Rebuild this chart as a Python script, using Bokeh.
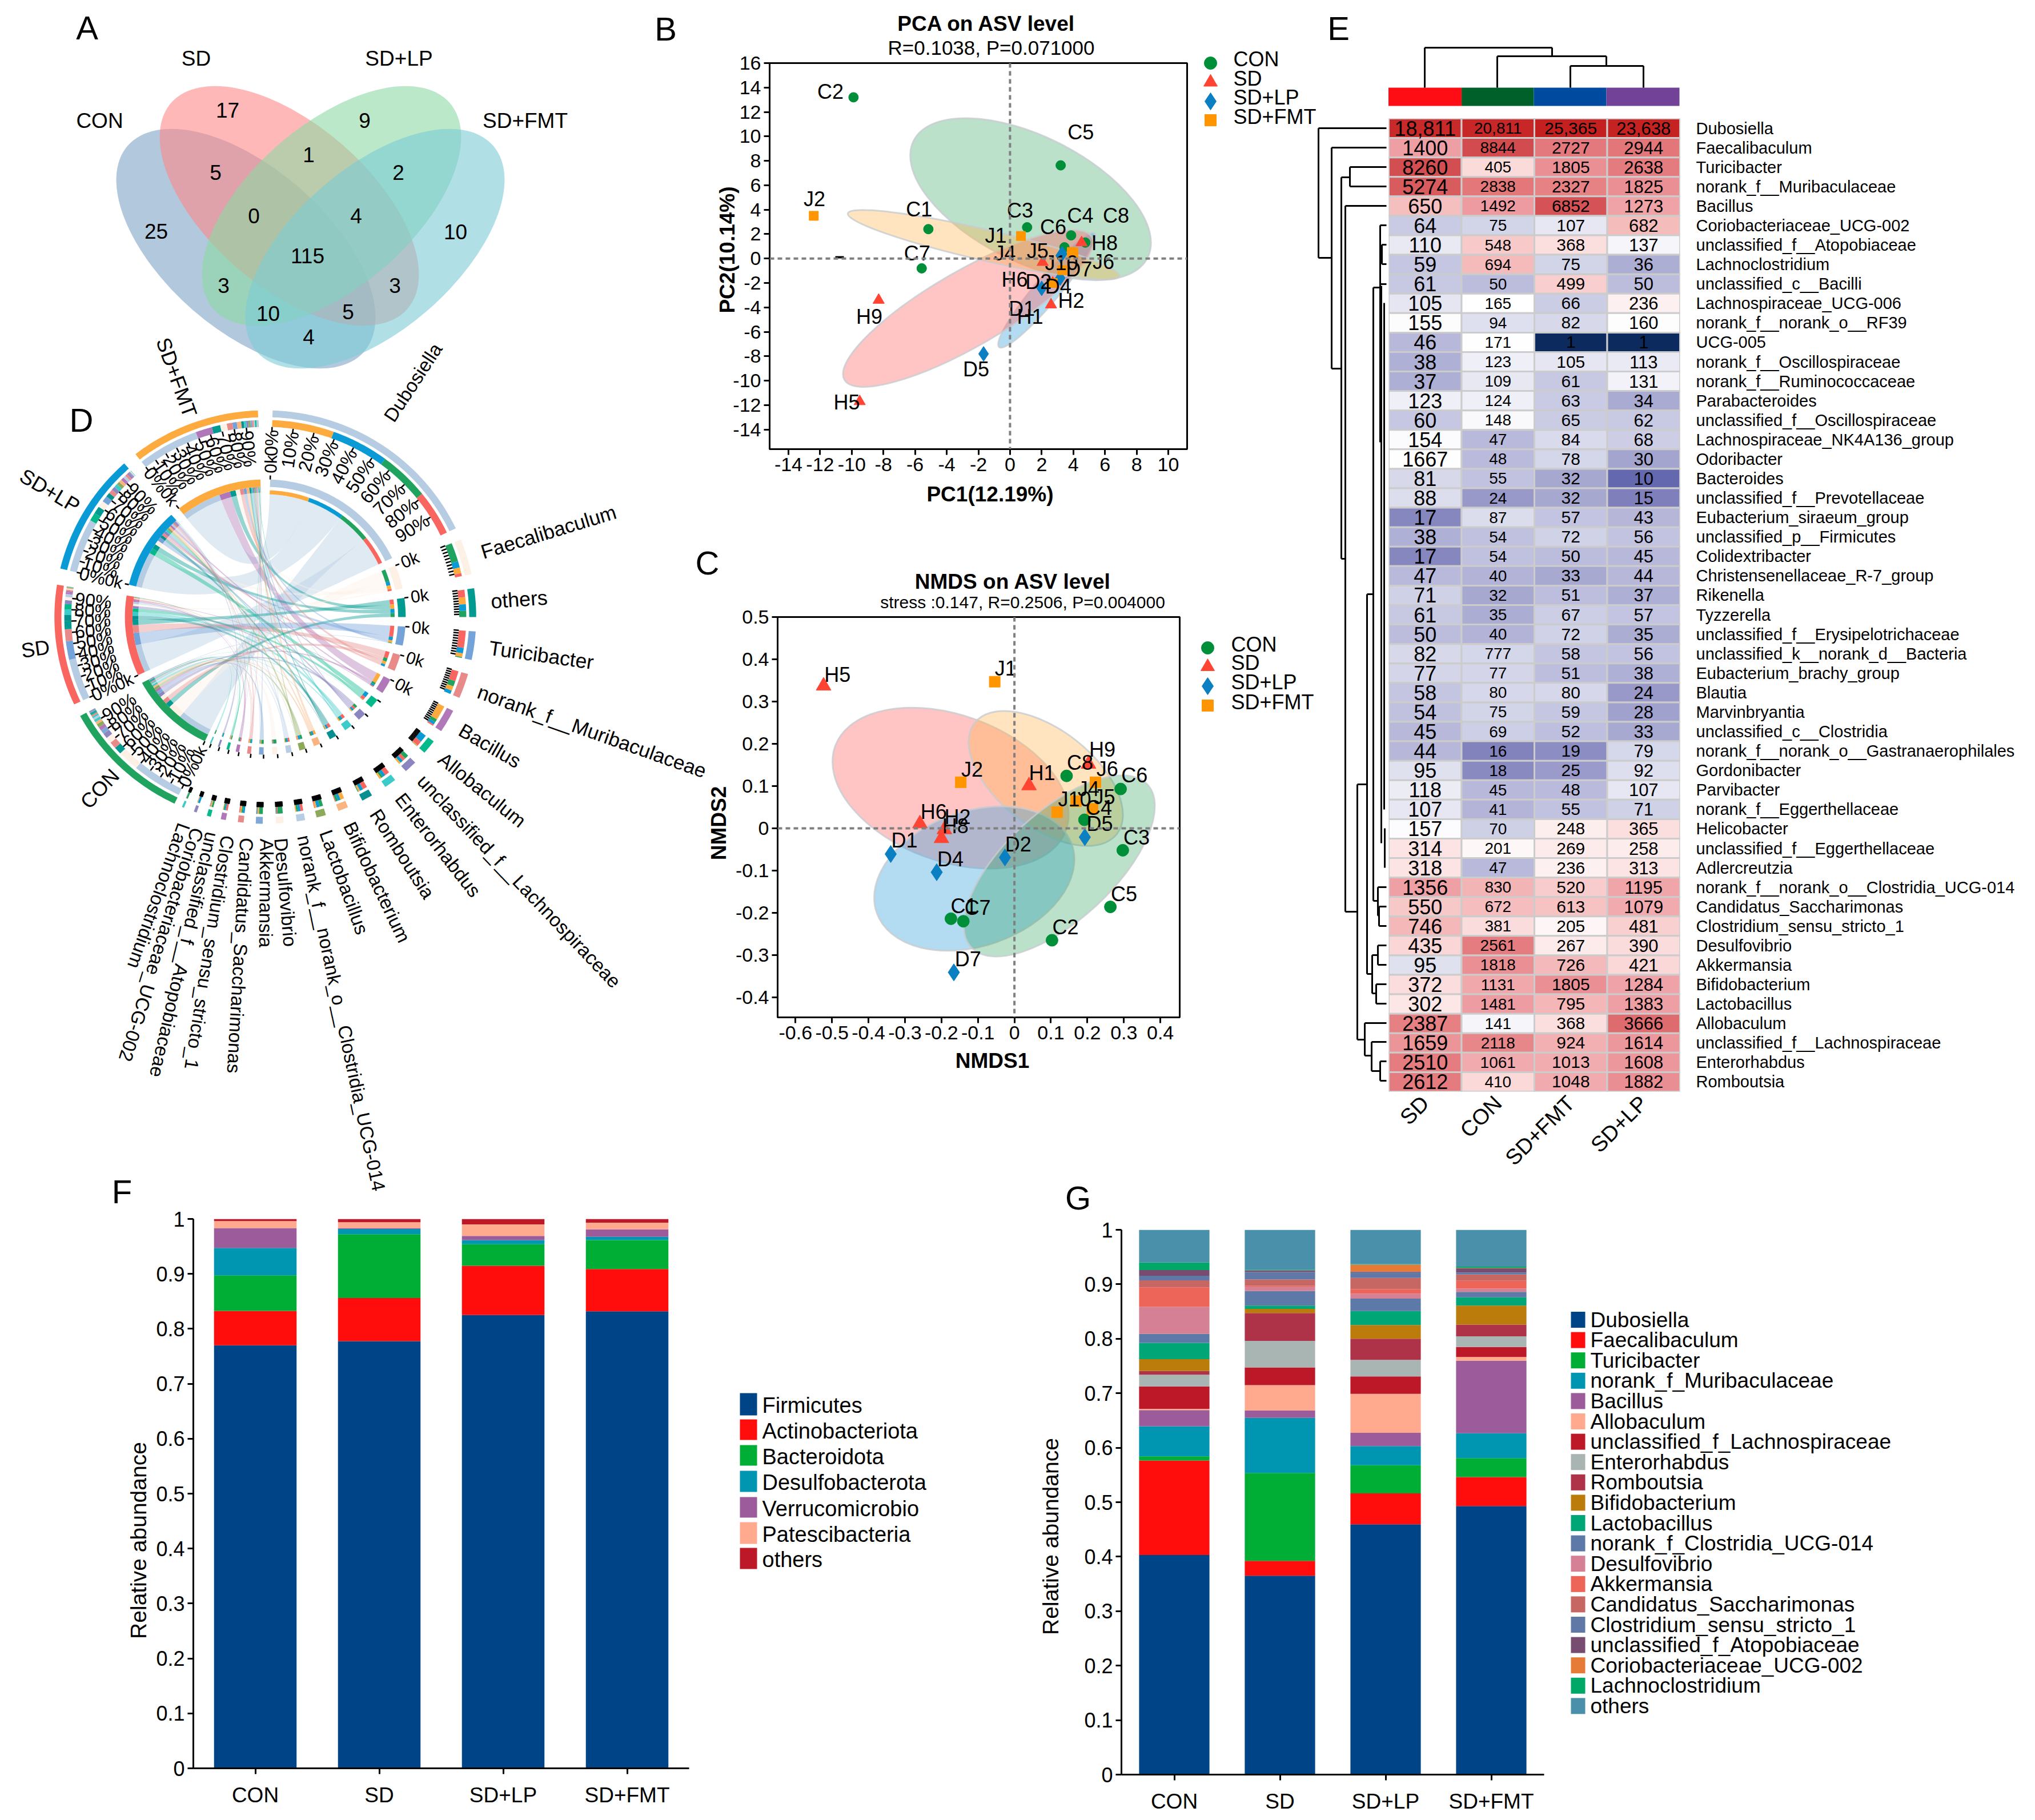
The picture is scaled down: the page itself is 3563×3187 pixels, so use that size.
import math
import numpy as np
from bokeh.plotting import figure
from bokeh.models import Range1d, FactorRange, FixedTicker, Span
from bokeh.core.properties import value
from bokeh.embed import file_html
from bokeh.resources import INLINE

FONT = "Liberation Sans"
GROUPS = ["CON", "SD", "SD+LP", "SD+FMT"]

# ---------- panel A
VENN_NAMES = ["CON", "SD", "SD+LP", "SD+FMT"]
VENN_COUNTS = ["17", "9", "5", "1", "2", "0", "4", "25", "10", "115", "3", "3", "10", "5", "4"]

# ---------- panels B / C
PCA_CON = {"C1": (-5.16, 2.41), "C2": (-9.89, 13.2), "C3": (1.08, 2.56), "C4": (3.86, 1.9),
           "C5": (3.2, 7.63), "C6": (3.44, 0.92), "C7": (-5.58, -0.8), "C8": (4.76, 1.31)}
PCA_SD = {"H1": (2.7, -2.0), "H2": (2.59, -3.78), "H5": (-9.5, -11.7), "H6": (2.06, -0.3),
          "H8": (4.52, 1.31), "H9": (-8.3, -3.4)}
PCA_LP = {"D1": (3.2, 0.24), "D2": (2.0, -2.44), "D4": (3.17, -1.6), "D5": (-1.67, -7.8), "D7": (3.3, 0.39)}
PCA_FMT = {"J1": (0.69, 1.85), "J2": (-12.4, 3.5), "J4": (3.9, 0.54), "J5": (4.0, 0.5),
           "J6": (2.7, -2.0), "J10": (3.3, -0.95)}
NMDS_CON = {"C1": (-0.174, -0.214), "C2": (0.103, -0.265), "C3": (0.297, -0.052), "C4": (0.192, 0.02),
            "C5": (0.263, -0.186), "C6": (0.291, 0.093), "C7": (-0.14, -0.22), "C8": (0.143, 0.124)}
NMDS_SD = {"H1": (0.04, 0.101), "H2": (-0.192, -0.003), "H5": (-0.523, 0.337), "H6": (-0.259, 0.011),
           "H8": (-0.2, -0.024), "H9": (0.203, 0.152)}
NMDS_LP = {"D1": (-0.339, -0.061), "D2": (-0.026, -0.069), "D4": (-0.213, -0.104), "D5": (0.193, -0.021),
           "D7": (-0.166, -0.341)}
NMDS_FMT = {"J1": (-0.054, 0.347), "J2": (-0.147, 0.109), "J4": (0.169, 0.064), "J5": (0.214, 0.046),
            "J6": (0.222, 0.109), "J10": (0.117, 0.038)}

# ---------- panel E
HEAT_COLS = ["SD", "CON", "SD+FMT", "SD+LP"]
HEAT_ROWS = ["Dubosiella", "Faecalibaculum", "Turicibacter", "norank_f__Muribaculaceae", "Bacillus",
             "Coriobacteriaceae_UCG-002", "unclassified_f__Atopobiaceae", "Lachnoclostridium",
             "unclassified_c__Bacilli", "Lachnospiraceae_UCG-006", "norank_f__norank_o__RF39", "UCG-005",
             "norank_f__Oscillospiraceae", "norank_f__Ruminococcaceae", "Parabacteroides",
             "unclassified_f__Oscillospiraceae", "Lachnospiraceae_NK4A136_group", "Odoribacter", "Bacteroides",
             "unclassified_f__Prevotellaceae", "Eubacterium_siraeum_group", "unclassified_p__Firmicutes",
             "Colidextribacter", "Christensenellaceae_R-7_group", "Rikenella", "Tyzzerella",
             "unclassified_f__Erysipelotrichaceae", "unclassified_k__norank_d__Bacteria",
             "Eubacterium_brachy_group", "Blautia", "Marvinbryantia", "unclassified_c__Clostridia",
             "norank_f__norank_o__Gastranaerophilales", "Gordonibacter", "Parvibacter",
             "norank_f__Eggerthellaceae", "Helicobacter", "unclassified_f__Eggerthellaceae", "Adlercreutzia",
             "norank_f__norank_o__Clostridia_UCG-014", "Candidatus_Saccharimonas", "Clostridium_sensu_stricto_1",
             "Desulfovibrio", "Akkermansia", "Bifidobacterium", "Lactobacillus", "Allobaculum",
             "unclassified_f__Lachnospiraceae", "Enterorhabdus", "Romboutsia"]
HEAT_SD = [18811, 1400, 8260, 5274, 650, 64, 110, 59, 61, 105, 155, 46, 38, 37, 123, 60, 154, 1667, 81, 88, 17, 38,
           17, 47, 71, 61, 50, 82, 77, 58, 54, 45, 44, 95, 118, 107, 157, 314, 318, 1356, 550, 746, 435, 95, 372,
           302, 2387, 1659, 2510, 2612]
HEAT_CON = [20811, 8844, 405, 2838, 1492, 75, 548, 694, 50, 165, 94, 171, 123, 109, 124, 148, 47, 48, 55, 24, 87, 54,
            54, 40, 32, 35, 40, 777, 77, 80, 75, 69, 16, 18, 45, 41, 70, 201, 47, 830, 672, 381, 2561, 1818, 1131,
            1481, 141, 2118, 1061, 410]
HEAT_FMT = [25365, 2727, 1805, 2327, 6852, 107, 368, 75, 499, 66, 82, 1, 105, 61, 63, 65, 84, 78, 32, 32, 57, 72, 50,
            33, 51, 67, 72, 58, 51, 80, 59, 52, 19, 25, 48, 55, 248, 269, 236, 520, 613, 205, 267, 726, 1805, 795,
            368, 924, 1013, 1048]
HEAT_LP = [23638, 2944, 2638, 1825, 1273, 682, 137, 36, 50, 236, 160, 1, 113, 131, 34, 62, 68, 30, 10, 15, 43, 56,
           45, 44, 37, 57, 35, 56, 38, 24, 28, 33, 79, 92, 107, 71, 365, 258, 313, 1195, 1079, 481, 390, 421, 1284,
           1383, 3666, 1614, 1608, 1882]
COLOR_VALUE_FIX = {"1667": 167, "777": 78}
COLOR_ANCHOR_V = [1, 10, 15, 24, 36, 50, 75, 105, 165, 236, 405, 682, 1400, 2500, 5274, 8844, 18811, 25365]
COLOR_ANCHOR_C = ["#0c2a5e", "#6468ae", "#7f80bb", "#9899c9", "#adaed3", "#bcbddd", "#d2d4e8", "#e6e6f2", "#ffffff",
                  "#fdf0f0", "#fbdada", "#f5bcbc", "#ee9fa4", "#e57d80", "#d85b5e", "#d24c4f", "#c82a2a", "#c4201f"]

# ---------- panel F
F_SERIES = ["Firmicutes", "Actinobacteriota", "Bacteroidota", "Desulfobacterota", "Verrucomicrobio",
            "Patescibacteria", "others"]
F_COLORS = ["#004488", "#ff0d0d", "#00ad35", "#0095b0", "#9c5b9a", "#ffa98e", "#bc1828"]
F_CON = [0.77, 0.8326, 0.8974, 0.9472, 0.9834, 0.9962, 1.0]
F_SD = [0.7775, 0.856, 0.9721, 0.9819, 0.9834, 0.994, 1.0]
F_LP = [0.825, 0.9148, 0.954, 0.9615, 0.969, 0.9902, 1.0]
F_FMT = [0.8318, 0.9087, 0.9615, 0.9676, 0.9811, 0.9932, 1.0]

# ---------- panel G
G_SERIES = ["Dubosiella", "Faecalibaculum", "Turicibacter", "norank_f_Muribaculaceae", "Bacillus", "Allobaculum",
            "unclassified_f_Lachnospiraceae", "Enterorhabdus", "Romboutsia", "Bifidobacterium", "Lactobacillus",
            "norank_f_Clostridia_UCG-014", "Desulfovibrio", "Akkermansia", "Candidatus_Saccharimonas",
            "Clostridium_sensu_stricto_1", "unclassified_f_Atopobiaceae", "Coriobacteriaceae_UCG-002",
            "Lachnoclostridium", "others"]
G_COLORS = ["#004488", "#ff0d0d", "#00ad35", "#0095b0", "#9c5b9a", "#ffa98e", "#bc1828", "#a9b5b3", "#ae3349",
            "#bb7c0c", "#00a676", "#5d79a8", "#d58094", "#ec6558", "#c66764", "#5f78a6", "#784b70", "#e67a37",
            "#00a868", "#4a90ab"]
G_CON = [0.403, 0.5764, 0.584, 0.6395, 0.669, 0.6715, 0.7125, 0.734, 0.7407, 0.7627, 0.7924, 0.809, 0.8586, 0.8943,
         0.9072, 0.9156, 0.9262, 0.9262, 0.94, 1.0]
G_SD = [0.365, 0.3924, 0.5536, 0.6548, 0.6684, 0.7148, 0.7475, 0.7962, 0.8471, 0.8548, 0.8608, 0.8875, 0.8958, 0.8975,
        0.9087, 0.9224, 0.9255, 0.9255, 0.927, 1.0]
G_LP = [0.4593, 0.5163, 0.568, 0.603, 0.6274, 0.6989, 0.7308, 0.7612, 0.8, 0.8251, 0.851, 0.8738, 0.8829, 0.8913,
        0.9118, 0.9217, 0.9232, 0.9361, 0.9369, 1.0]
G_FMT = [0.4928, 0.546, 0.581, 0.6266, 0.7597, 0.7665, 0.7848, 0.8046, 0.8259, 0.8608, 0.876, 0.8859, 0.892, 0.9065,
         0.9179, 0.9217, 0.9293, 0.93, 0.9323, 1.0]

# ---------- panel D
CHORD_SECTORS = ["Dubosiella", "Faecalibaculum", "others", "Turicibacter", "norank_f__Muribaculaceae", "Bacillus",
                 "Allobaculum", "unclassified_f__Lachnospiraceae", "Enterorhabdus", "Romboutsia", "Bifidobacterium",
                 "Lactobacillus", "norank_f__norank_o__Clostridia_UCG-014", "Desulfovibrio", "Akkermansia",
                 "Candidatus_Saccharimonas", "Clostridium_sensu_stricto_1", "unclassified_f__Atopobiaceae",
                 "Coriobacteriaceae_UCG-002", "Lachnoclostridium"]
CHORD_COLORS = ["#b6cce2", "#fdf1e6", "#009a91", "#74a3d9", "#e88a8a", "#b078b8", "#05b98a", "#8b86bf", "#3ccbc9",
                "#088f8f", "#f9b481", "#8daa5a", "#b6cde4", "#fdf0e6", "#7fa8d7", "#e88a8a", "#b078b8", "#05b98a",
                "#8b86bf", "#3ccbc9"]
CHORD_START = [2, 68, 82, 94, 106, 117, 127, 134.7, 142, 149.6, 156.9, 163.3, 169.1, 175, 180.7, 185.9, 190.8, 195,
               199, 202.7]
CHORD_END = [64.6, 78, 90, 102, 113, 123.5, 131, 138.2, 145.3, 152.6, 159.7, 165.9, 171.4, 177.1, 182.6, 187.5,
             192.2, 196.1, 199.8, 203.3]
CHORD_LABEL_DIR = [33.3, 73, 86, 98, 109.5, 120.2, 129, 136.5, 142, 147.2, 154.7, 160, 168, 175, 180.5, 183.2, 189,
                   193, 197.4, 199.5]
OTHERS_VALUES = {"CON": 3100, "SD": 3700, "SD+LP": 3250, "SD+FMT": 3500}
GROUP_START = {"CON": 205.5, "SD": 245, "SD+LP": 283.6, "SD+FMT": 322}
GROUP_END = {"CON": 241.4, "SD": 279, "SD+LP": 318, "SD+FMT": 358}
GROUP_COLORS = {"CON": "#1fa35f", "SD": "#f8665f", "SD+LP": "#0a9ad5", "SD+FMT": "#fdab3e"}

# ---------------------------------------------------------------- helpers
PAGE_W, PAGE_H = 3547, 3171


def place(p, left, top):
    p.styles = {"position": "absolute", "left": f"{left}px", "top": f"{top}px"}


base = figure(width=PAGE_W, height=PAGE_H, x_range=Range1d(8, 3555), y_range=Range1d(3179, 8),
              output_backend="svg", toolbar_location=None, min_border=0, tools="")
base.axis.visible = False
base.grid.visible = False
base.outline_line_color = None
base.background_fill_color = None
base.border_fill_color = None
place(base, 8, 8)


def txt(x, y, s, size, angle=0.0, align="center", bold=False, color="#000000", fig=None, baseline="middle"):
    (fig or base).text(x=[x], y=[y], text=[s], text_font=value(FONT), text_font_size=f"{size}px", angle=[angle],
                       text_align=align, text_baseline=baseline, text_color=color,
                       text_font_style="bold" if bold else "normal")


# panel letters
for s, x, y in [("A", 152, 48), ("B", 1165, 50), ("C", 1238, 985), ("D", 142, 735), ("E", 2343, 49),
                ("F", 213, 2086), ("G", 1887, 2097)]:
    txt(x, y, s, 58)

# ---------------------------------------------------------------- A venn
venn_cx = [430, 506, 580, 656]
venn_cy = [435, 360, 360, 435]
venn_ang = [-41.1, -41.1, 41.1, 41.1]
venn_col = ["#7fa3c6", "#ff8989", "#8cd9a3", "#7bcbd5"]
for i in [0, 1, 2, 3]:
    base.ellipse(x=[venn_cx[i]], y=[venn_cy[i]], width=[549], height=[284], angle=[math.radians(venn_ang[i])],
                 width_units="screen", height_units="screen", fill_color=venn_col[i], fill_alpha=0.6, line_color=None)
for s, x, y in zip(VENN_NAMES, [174, 343, 698, 919], [211, 102, 102, 211]):
    txt(x, y, s, 37)
VX = [398, 638, 377, 540, 697, 444, 623, 273, 797, 538, 391, 691, 469, 609, 540]
VY = [192, 210, 301, 270, 301, 377, 377, 404, 405, 447, 499, 499, 548, 545, 589]
for s, x, y in zip(VENN_COUNTS, VX, VY):
    txt(x, y, s, 37)

# ---------------------------------------------------------------- D chord
CX, CY, KX = 464, 1080, 1.02


def pol(theta, r):
    t = np.radians(theta)
    return CX + KX * r * np.sin(t), CY - r * np.cos(t)


def wedge(t0, t1, r0, r1):
    ts = np.linspace(t0, t1, max(3, int(abs(t1 - t0) * 1.5) + 2))
    xo, yo = pol(ts, r1)
    xi, yi = pol(ts[::-1], r0)
    return list(xo) + list(xi), list(yo) + list(yi)


def bez(p0, p2, n=28):
    u = np.linspace(0, 1, n)
    x = (1 - u) ** 2 * p0[0] + 2 * u * (1 - u) * CX + u ** 2 * p2[0]
    y = (1 - u) ** 2 * p0[1] + 2 * u * (1 - u) * CY + u ** 2 * p2[1]
    return list(x), list(y)


heat_by_group = {"CON": HEAT_CON, "SD": HEAT_SD, "SD+LP": HEAT_LP, "SD+FMT": HEAT_FMT}
vals = {g: [] for g in GROUPS}
for name in CHORD_SECTORS:
    for g in GROUPS:
        if name == "others":
            vals[g].append(OTHERS_VALUES[g])
        else:
            vals[g].append(heat_by_group[g][HEAT_ROWS.index(name)])

group_span, genus_span = {}, {}
xs, ys, cols = [], [], []


def add(w, c):
    xs.append(w[0])
    ys.append(w[1])
    cols.append(c)


for g in GROUPS:
    order = sorted(range(len(CHORD_SECTORS)), key=lambda i: -vals[g][i])
    tot = sum(vals[g])
    a = GROUP_START[g]
    span = GROUP_END[g] - GROUP_START[g]
    for i in order:
        b = a + span * vals[g][i] / tot
        group_span[(g, i)] = (a, b)
        add(wedge(a, b, 333, 345), CHORD_COLORS[i])
        add(wedge(a, b, 218, 228), CHORD_COLORS[i])
        a = b
    add(wedge(GROUP_START[g], GROUP_END[g], 350, 362), GROUP_COLORS[g])
    add(wedge(GROUP_START[g], GROUP_END[g], 228, 241), GROUP_COLORS[g])

for i in range(len(CHORD_SECTORS)):
    order = sorted(GROUPS, key=lambda g: -vals[g][i])
    tot = sum(vals[g][i] for g in GROUPS)
    a = CHORD_START[i]
    span = CHORD_END[i] - CHORD_START[i]
    for g in order:
        b = a + span * vals[g][i] / tot
        genus_span[(g, i)] = (a, b)
        add(wedge(a, b, 333, 345), GROUP_COLORS[g])
        add(wedge(a, b, 215, 222), GROUP_COLORS[g])
        a = b
    add(wedge(CHORD_START[i], CHORD_END[i], 350, 362), CHORD_COLORS[i])
    add(wedge(CHORD_START[i], CHORD_END[i], 228, 241), CHORD_COLORS[i])

rx, ry, rc, ra = [], [], [], []
all_links = sorted(group_span.keys(), key=lambda k: -vals[k[0]][k[1]])
for g, i in all_links:
    a0, a1 = group_span[(g, i)]
    b0, b1 = genus_span[(g, i)]
    ga = np.linspace(a0, a1, 12)
    gb = np.linspace(b0, b1, 12)
    x1, y1 = pol(ga, 218)
    x2, y2 = bez(pol(a1, 218), pol(b0, 215))
    x3, y3 = pol(gb, 215)
    x4, y4 = bez(pol(b1, 215), pol(a0, 218))
    rx.append(list(x1) + x2 + list(x3) + x4)
    ry.append(list(y1) + y2 + list(y3) + y4)
    rc.append(CHORD_COLORS[i])
    ra.append(0.42)
base.patches(xs=rx, ys=ry, fill_color=rc, fill_alpha=ra, line_color=None)
base.patches(xs=xs, ys=ys, fill_color=cols, line_color=None)

# ticks and labels of the sectors
tx0, ty0, tx1, ty1 = [], [], [], []


def pct_labels(t0, t1):
    for k in range(10):
        th = t0 + (t1 - t0) * k / 10
        right = th % 360 < 180
        x, y = pol(th, 328)
        ang = math.radians(90 - th) if right else math.radians(270 - th)
        txt(float(x), float(y), f"{k * 10}%", 32, ang, "right" if right else "left")


def ticks(t0, t1):
    for k in range(10):
        th = t0 + (t1 - t0) * k / 10
        a = pol(th, 324)
        b = pol(th, 333)
        tx0.append(float(a[0])); ty0.append(float(a[1])); tx1.append(float(b[0])); ty1.append(float(b[1]))


def zero_k(th):
    a = pol(th, 241)
    b = pol(th, 248)
    tx0.append(float(a[0])); ty0.append(float(a[1])); tx1.append(float(b[0])); ty1.append(float(b[1]))


for i, name in enumerate(CHORD_SECTORS):
    ticks(CHORD_START[i], CHORD_END[i])
    zero_k(CHORD_START[i])
    th = (CHORD_START[i] + CHORD_END[i]) / 2
    d = CHORD_LABEL_DIR[i]
    if i == 0:
        x, y = pol(31.5, 405)
    elif i >= 14:
        x, y = pol(th - 2, 388)
    else:
        x, y = pol(th, 388)
    size = 36 - 3 * abs(math.cos(math.radians(d)))
    txt(float(x), float(y), name, round(size, 1), math.radians(90 - d), "left")
    if i < 6:
        x, y = pol(CHORD_START[i], 252)
        txt(float(x), float(y), "0k", 30, math.radians(90 - CHORD_START[i]), "left")
pct_labels(CHORD_START[0], CHORD_END[0])
for g in GROUPS:
    s, e = GROUP_START[g], GROUP_END[g]
    ticks(s, e)
    zero_k(s)
    pct_labels(s, e)
    x, y = pol(s, 252)
    txt(float(x), float(y), "0k", 30, math.radians(270 - s), "right")
    th = (s + e) / 2
    x, y = pol(th, 374)
    txt(float(x), float(y), g, 36, math.radians(270 - th), "right")
base.segment(tx0, ty0, tx1, ty1, line_color="#000000", line_width=2.5)

# ---------------------------------------------------------------- legends drawn on the page
LEG_COL = ["#008f39", "#ff4433", "#0a7fc1", "#ff9500"]
LEG_MARK = ["circle", "triangle", "diamond", "square"]
LEG_SIZE = [22, 24, 30, 20]
for mx, tx, rows, trows in [(2119, 2159, [110, 143.5, 177, 210], [103, 137, 170, 204]),
                            (2114, 2155, [1134, 1167, 1201, 1235], [1127.5, 1160, 1194, 1229])]:
    for g, c, m, sz, y, ty in zip(GROUPS, LEG_COL, LEG_MARK, LEG_SIZE, rows, trows):
        base.scatter(x=[mx], y=[y], marker=m, size=sz, fill_color=c, line_color=c)
        txt(tx, ty, g, 36, align="left")
txt(1727, 41, "PCA on ASV level", 37, bold=True)
txt(1735, 83, "R=0.1038, P=0.071000", 35)
txt(1773, 1018, "NMDS on ASV level", 37, bold=True)
txt(1790, 1054, "stress :0.147, R=0.2506, P=0.004000", 30)
# axis titles, placed where the reference has them
txt(1733, 865, "PC1(12.19%)", 37, bold=True)
txt(1273, 437, "PC2(10.14%)", 37, angle=math.pi / 2, bold=True)
txt(1737, 1857, "NMDS1", 37, bold=True)
txt(1258, 1441, "NMDS2", 37, angle=math.pi / 2, bold=True)
txt(242, 2697, "Relative abundance", 39, angle=math.pi / 2)
txt(1839, 2690, "Relative abundance", 39, angle=math.pi / 2)
base.segment([1462], [450], [1477], [450], line_color="#000000", line_width=4)

F_LEG_TOP = [2439, 2485, 2530, 2575, 2621, 2665, 2710]
F_LEG_BOT = [2478, 2521, 2566, 2612, 2657, 2703, 2747]
for s, c, t, b in zip(F_SERIES, F_COLORS, F_LEG_TOP, F_LEG_BOT):
    base.quad(left=[1295], right=[1325], top=[t], bottom=[b], fill_color=c, line_color=None)
    txt(1334, (t + b) / 2 + 2, s, 38, align="left")
for k, (s, c) in enumerate(zip(G_SERIES, G_COLORS)):
    t = 2296.5 + 35.6 * k
    base.quad(left=[2750], right=[2775], top=[t], bottom=[t + 28], fill_color=c, line_color=None)
    txt(2784, t + 14, s, 37, align="left")

# ---------------------------------------------------------------- heat map extras
col_band = [(2430.5, 2558.6, "#ff0d14"), (2558.6, 2685, "#00602a"), (2685, 2812, "#004aa0"), (2812, 2940, "#724299")]
for l, r, c in col_band:
    base.quad(left=[l], right=[r], top=[153], bottom=[185], fill_color=c, line_color=None)
DEND_COL = [(2494, 153, 2494, 83), (2494, 83, 2717, 83), (2717, 83, 2717, 98), (2621, 153, 2621, 98),
            (2621, 98, 2812, 98), (2812, 98, 2812, 115), (2749, 153, 2749, 115), (2749, 115, 2877, 115),
            (2877, 115, 2877, 153)]
DEND_ROW = [(2308, 224, 2427, 224), (2308, 224, 2308, 451), (2308, 451, 2331, 451), (2331, 258, 2427, 258),
            (2331, 258, 2331, 645), (2331, 645, 2348, 645), (2348, 310, 2348, 978), (2348, 310, 2363, 310),
            (2363, 292, 2363, 326), (2363, 292, 2427, 292), (2363, 326, 2427, 326), (2348, 978, 2355, 978),
            (2355, 360, 2427, 360), (2355, 360, 2355, 1596), (2355, 1596, 2376, 1596), (2376, 1373, 2376, 1820),
            (2376, 1820, 2389, 1820), (2389, 1791, 2389, 1848), (2389, 1791, 2427, 1791), (2389, 1848, 2401, 1848),
            (2401, 1824, 2401, 1875), (2401, 1824, 2427, 1824), (2401, 1875, 2416, 1875), (2416, 1858, 2416, 1892),
            (2416, 1858, 2427, 1858), (2416, 1892, 2427, 1892), (2376, 1373, 2393, 1373), (2393, 1040, 2393, 1705),
            (2393, 1705, 2402, 1705), (2402, 1672, 2402, 1739), (2402, 1672, 2412, 1672), (2412, 1655, 2412, 1689),
            (2412, 1655, 2427, 1655), (2412, 1689, 2427, 1689), (2402, 1739, 2409, 1739), (2409, 1723, 2409, 1757),
            (2409, 1723, 2427, 1723), (2409, 1757, 2427, 1757), (2393, 1040, 2404, 1040), (2404, 503, 2404, 1577),
            (2404, 1577, 2412, 1577), (2412, 1553, 2412, 1603), (2412, 1553, 2427, 1553), (2412, 1603, 2414, 1603),
            (2414, 1587, 2414, 1621), (2414, 1587, 2427, 1587), (2414, 1621, 2427, 1621), (2404, 503, 2416, 503),
            (2416, 394, 2416, 774), (2416, 394, 2427, 394), (2416, 445, 2419, 445), (2419, 428, 2419, 462),
            (2419, 428, 2427, 428), (2419, 462, 2427, 462), (2416, 497, 2427, 497), (2418, 500, 2418, 1476),
            (2423, 530, 2423, 1417), (2424, 1450, 2424, 1519)]
for segs in (DEND_COL, DEND_ROW):
    a = np.array(segs, dtype=float)
    base.segment(a[:, 0], a[:, 1], a[:, 2], a[:, 3], line_color="#000000", line_width=3)


# ---------------------------------------------------------------- panel figures
def frame_fig(left, top, w, h, x_range, y_range, L=170, R=30, T=30, B=130, **kw):
    p = figure(frame_width=int(round(w)), frame_height=int(round(h)), x_range=x_range, y_range=y_range,
               output_backend="svg", toolbar_location=None, tools="", min_border_left=L, min_border_right=R,
               min_border_top=T, min_border_bottom=B, **kw)
    p.background_fill_color = None
    p.border_fill_color = None
    p.grid.visible = False
    place(p, left - L, top - T)
    return p


def style_axis(ax, size):
    ax.major_label_text_font = FONT
    ax.major_label_text_font_size = f"{size}px"
    ax.major_label_text_color = "#000000"
    ax.axis_line_color = "#000000"
    ax.axis_line_width = 3
    ax.major_tick_line_color = "#000000"
    ax.major_tick_line_width = 3
    ax.major_tick_out = 10
    ax.major_tick_in = 0
    ax.minor_tick_line_color = None


def fmt(v):
    return f"{v:g}"


def scatter_panel(left, top, w, h, xr, yr, xt, yt, ells, sets, label_pos, sizes_):
    p = frame_fig(left, top, w, h, Range1d(*xr), Range1d(*yr))
    p.outline_line_color = "#000000"
    p.outline_line_width = 3
    for cx, cy, a, b, ang, col, alpha in ells:
        p.ellipse(x=[cx], y=[cy], width=[2 * a], height=[2 * b], angle=[math.radians(ang)], width_units="screen",
                  height_units="screen", fill_color=col, fill_alpha=alpha, line_color="#c8ccd0", line_width=3,
                  line_alpha=0.8)
    for dim in ("width", "height"):
        p.add_layout(Span(location=0, dimension=dim, line_color="#808080", line_width=4, line_dash="8 6"))
    for d, c, m, sz in zip(sets, LEG_COL, LEG_MARK, sizes_):
        p.scatter(x=[v[0] for v in d.values()], y=[v[1] for v in d.values()], marker=m, size=sz, fill_color=c,
                  line_color=c)
    p.text(x=[v[1] for v in label_pos], y=[v[2] for v in label_pos], text=[v[0] for v in label_pos],
           text_font=value(FONT), text_font_size="36px", text_align="center", text_baseline="middle",
           text_color="#000000")
    for ax, ticks_ in ((p.xaxis[0], xt), (p.yaxis[0], yt)):
        style_axis(ax, 34)
        ax.ticker = FixedTicker(ticks=ticks_)
        ax.major_label_overrides = {t: fmt(t) for t in ticks_}
    return p


def lab_pca(s, zx, zy):
    return (s, (zx - 842) / 37.8, (708 - zy) / 33.57)


def lab_nmds(s, zx, zy):
    return (s, (zx - 853) / 872, (826 - zy) / 1220)


PCA_LABEL_ZOOM = [("C2", 413, 250), ("C5", 1011, 360), ("C1", 625, 572), ("C3", 866, 576), ("C4", 1010, 590),
                  ("C8", 1095, 590), ("C6", 945, 622), ("C7", 620, 693), ("J2", 375, 544), ("J1", 808, 645),
                  ("J4", 830, 693), ("J5", 908, 687), ("J10", 965, 720), ("D7", 1007, 737), ("J6", 1065, 717),
                  ("H8", 1068, 665), ("H6", 853, 765), ("D2", 910, 772), ("D4", 957, 785), ("H2", 988, 823),
                  ("D1", 870, 845), ("H1", 890, 868), ("H9", 506, 868), ("H5", 452, 1103), ("D5", 761, 1012)]
NMDS_LABEL_ZOOM = [("H5", 430, 382), ("J1", 832, 365), ("J2", 752, 657), ("H1", 919, 667), ("C8", 1010, 637),
                   ("H9", 1063, 598), ("J6", 1075, 655), ("C6", 1140, 673), ("J4", 1030, 712), ("J10", 997, 742),
                   ("J5", 1068, 735), ("C4", 1055, 767), ("D5", 1057, 813), ("C3", 1145, 853), ("H6", 660, 778),
                   ("H2", 717, 793), ("H8", 712, 820), ("D1", 590, 860), ("D2", 862, 873), ("D4", 700, 915),
                   ("C1", 732, 1050), ("C7", 765, 1055), ("C5", 1115, 1015), ("C2", 975, 1112), ("D7", 742, 1203)]

pca_ell = [(1.3, 4.86, 229, 110, -26.5, "#1f9a52", 0.3), (2.33, -2.59, 130, 22, 50, "#41a5dc", 0.4),
           (-2.65, -4.08, 250, 66, 30, "#ff6464", 0.38), (-1.67, 1.13, 244, 27, -13, "#ffb347", 0.35)]
nmds_ell = [(-0.175, 0.095, 215, 128, -20, "#ff6464", 0.38), (0.086, 0.118, 158, 85, -38, "#ffb347", 0.35),
            (-0.11, -0.119, 181, 118, 19.3, "#41a5dc", 0.4), (0.123, -0.089, 210, 95, 42.7, "#1f9a52", 0.3)]

pB = scatter_panel(1347, 110, 731, 676, (-15.19, 11.19), (-15.6, 16),
                   [-14, -12, -10, -8, -6, -4, -2, 0, 2, 4, 6, 8, 10],
                   [-14, -12, -10, -8, -6, -4, -2, 0, 2, 4, 6, 8, 10, 12, 14, 16],
                   pca_ell, [PCA_CON, PCA_SD, PCA_LP, PCA_FMT],
                   [lab_pca(*v) for v in PCA_LABEL_ZOOM], [17, 20, 26, 16])
pC = scatter_panel(1360.5, 1080, 704.5, 701, (-0.649, 0.453), (-0.4475, 0.5),
                   [-0.6, -0.5, -0.4, -0.3, -0.2, -0.1, 0, 0.1, 0.2, 0.3, 0.4],
                   [-0.4, -0.3, -0.2, -0.1, 0, 0.1, 0.2, 0.3, 0.4, 0.5],
                   nmds_ell, [NMDS_CON, NMDS_SD, NMDS_LP, NMDS_FMT],
                   [lab_nmds(*v) for v in NMDS_LABEL_ZOOM], [21, 26, 30, 19])


def stacked(left, top, w, h, cums, colors, tick_size):
    p = frame_fig(left, top, w, h, FactorRange(factors=GROUPS, range_padding=0), Range1d(0, 1))
    p.outline_line_color = None
    for g, cum in zip(GROUPS, cums):
        arr = np.array(cum)
        bottoms = np.concatenate([[0.0], arr[:-1]])
        p.vbar(x=[g] * len(arr), bottom=bottoms, top=arr, width=0.666, fill_color=colors, line_color=None)
    y_t = [0, 0.1, 0.2, 0.3, 0.4, 0.5, 0.6, 0.7, 0.8, 0.9, 1]
    style_axis(p.xaxis[0], 37)
    style_axis(p.yaxis[0], tick_size)
    p.yaxis[0].ticker = FixedTicker(ticks=y_t)
    p.yaxis[0].major_label_overrides = {t: fmt(t) for t in y_t}
    p.xaxis[0].major_label_standoff = 16
    return p


pF = stacked(338, 2134, 868, 962, [F_CON, F_SD, F_LP, F_FMT], F_COLORS, 36)
pG = stacked(1963, 2153, 740, 953.5, [G_CON, G_SD, G_LP, G_FMT], G_COLORS, 36)

# heat map
def heat_color(v):
    lv = np.log10(COLOR_ANCHOR_V)
    t = math.log10(v)
    rgb = []
    for k in range(3):
        chan = [int(c[1 + 2 * k:3 + 2 * k], 16) for c in COLOR_ANCHOR_C]
        rgb.append(int(round(np.interp(t, lv, chan))))
    return "#%02x%02x%02x" % tuple(rgb)


pE = frame_fig(2430.5, 207, 509.5, 1704, FactorRange(factors=HEAT_COLS, range_padding=0),
               FactorRange(factors=HEAT_ROWS[::-1], range_padding=0), L=30, R=610, T=20, B=170,
               y_axis_location="right")
pE.outline_line_color = None
cx_, cy_, cf, ct, cs = [], [], [], [], []
sizes = {"SD": "36px", "CON": "28px", "SD+FMT": "30px", "SD+LP": "31px"}
for col, arr in zip(HEAT_COLS, [HEAT_SD, HEAT_CON, HEAT_FMT, HEAT_LP]):
    for r, v in zip(HEAT_ROWS, arr):
        cx_.append(col); cy_.append(r)
        cf.append(heat_color(COLOR_VALUE_FIX.get(str(v), v)))
        ct.append(f"{v:,}" if v >= 10000 else str(v))
        cs.append(sizes[col])
pE.rect(x=cx_, y=cy_, width=1, height=1, fill_color=cf, line_color="#cccccc", line_width=3)
pE.text(x=cx_, y=cy_, text=ct, text_font=value(FONT), text_font_size=cs, text_align="center",
        text_baseline="middle", text_color="#000000")
for ax, size in ((pE.xaxis[0], 38), (pE.yaxis[0], 29)):
    style_axis(ax, size)
    ax.axis_line_color = None
    ax.major_tick_line_color = None
    ax.major_tick_out = 0
pE.yaxis[0].major_label_standoff = 28
pE.xaxis[0].major_label_orientation = math.pi / 4
pE.xaxis[0].major_label_standoff = 14

open("out.html", "w").write(file_html([base, pF, pG, pB, pC, pE], INLINE))
